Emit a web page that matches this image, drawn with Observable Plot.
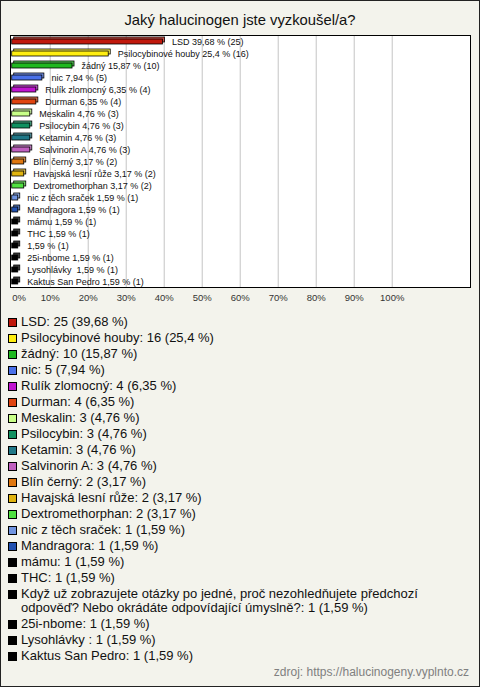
<!DOCTYPE html>
<html>
<head>
<meta charset="utf-8">
<script src="https://cdn.jsdelivr.net/npm/d3@7"></script>
<script src="https://cdn.jsdelivr.net/npm/@observablehq/plot@0.6"></script>
<style>
  html, body { margin: 0; padding: 0; background: #fff; }
  #card {
    position: relative; box-sizing: border-box; width: 480px; height: 687px;
    background: #f3f3ec; border: 1px solid #222; overflow: hidden;
    font-family: "Liberation Sans", Arial, sans-serif; color: #111;
  }
  #title { position: absolute; left: 0; top: 10px; width: 478px; text-align: center; font-size: 14.8px; line-height: 18px; }
  #chart { position: absolute; left: 0; top: 29px; }
  #legend { position: absolute; left: 7px; top: 314px; width: 440px; font-size: 13px; }
  .item { display: flex; align-items: flex-start; line-height: 14px; margin-bottom: 2px; }
  .sw { flex: none; box-sizing: border-box; width: 9px; height: 9px; border: 1px solid #000; margin: 3px 4px 0 0; }
  #source { position: absolute; right: 10px; top: 664px; font-size: 12px; color: #808080; }
</style>
</head>
<body>
<div id="card">
  <div id="title"></div>
  <div id="chart"></div>
  <div id="legend"></div>
  <div id="source"></div>
</div>
<script>
const titleText = "Jaký halucinogen jste vyzkoušel/a?";
const sourceText = "zdroj: https://halucinogeny.vyplnto.cz";
const categories = [
  "LSD", "Psilocybinové houby", "žádný", "nic", "Rulík zlomocný", "Durman",
  "Meskalin", "Psilocybin", "Ketamin", "Salvinorin A", "Blín černý",
  "Havajská lesní růže", "Dextromethorphan", "nic z těch sraček", "Mandragora",
  "mámu", "THC",
  "Když už zobrazujete otázky po jedné, proč nezohledňujete předchozí odpověď? Nebo okrádáte odpovídající úmyslně?",
  "25i-nbome", "Lysohlávky ", "Kaktus San Pedro"
];
const barLabels = [
  "LSD", "Psilocybinové houby", "žádný", "nic", "Rulík zlomocný", "Durman",
  "Meskalin", "Psilocybin", "Ketamin", "Salvinorin A", "Blín černý",
  "Havajská lesní růže", "Dextromethorphan", "nic z těch sraček", "Mandragora",
  "mámu", "THC", "", "25i-nbome", "Lysohlávky ", "Kaktus San Pedro"
];
const counts = [25, 16, 10, 5, 4, 4, 3, 3, 3, 3, 2, 2, 2, 1, 1, 1, 1, 1, 1, 1, 1];
const percents = [39.68, 25.4, 15.87, 7.94, 6.35, 6.35, 4.76, 4.76, 4.76, 4.76, 3.17, 3.17, 3.17, 1.59, 1.59, 1.59, 1.59, 1.59, 1.59, 1.59, 1.59];
const percentLabels = ["39,68", "25,4", "15,87", "7,94", "6,35", "6,35", "4,76", "4,76", "4,76", "4,76", "3,17", "3,17", "3,17", "1,59", "1,59", "1,59", "1,59", "1,59", "1,59", "1,59", "1,59"];
const colors = [
  "#c0180c", "#ffee10", "#20b820", "#4a70e8", "#c014d0", "#e04410",
  "#c8ff88", "#109060", "#207888", "#c060c0", "#e07810",
  "#e0b410", "#50e040", "#7094e0", "#2050b0",
  "#000000", "#000000", "#000000", "#000000", "#000000", "#000000"
];
const xTicks = [0, 10, 20, 30, 40, 50, 60, 70, 80, 90, 100];

const rows = categories.map((c, i) => ({
  name: c, count: counts[i], pct: percents[i], pctLabel: percentLabels[i],
  barLabel: barLabels[i], color: colors[i],
  label: (barLabels[i] + " " + percentLabels[i] + " % (" + counts[i] + ")").trim()
}));

document.getElementById("title").textContent = titleText;
document.getElementById("source").textContent = sourceText;

const font = "'Liberation Sans', Arial, sans-serif";
const chart = Plot.plot({
  width: 478,
  height: 285,
  marginLeft: 9,
  marginRight: 9,
  marginTop: 5,
  marginBottom: 28,
  style: { background: "transparent", fontFamily: font },
  x: { domain: [-0.45, 120.6], label: null },
  y: { domain: categories, axis: null, paddingInner: 0.58, paddingOuter: 0.29 },
  color: { domain: categories, range: colors },
  marks: [
    Plot.frame({ fill: "white", stroke: null }),
    Plot.gridX(xTicks.filter(d => d > 0), { stroke: "#c4c4c4", strokeOpacity: 1 }),
    Plot.barX(rows, { x: "pct", y: "name", fill: "name", fillOpacity: 0.75, stroke: "#000", strokeWidth: 0.8, dx: 2, dy: -1 }),
    Plot.barX(rows, { x: "pct", y: "name", fill: "name", stroke: "#000", strokeWidth: 0.8, dy: 1 }),
    Plot.text(rows, { x: "pct", y: "name", text: "label", textAnchor: "start", dx: 9, dy: 1, fontSize: 9, fill: "#111" }),
    Plot.axisX(xTicks.filter(d => d > 0), { tickSize: 0, tickPadding: 7, tickFormat: d => d + "%", fontSize: 9.5, fill: "#333", label: null }),
    Plot.axisX(xTicks.filter(d => d === 0), { tickSize: 0, tickPadding: 7, tickFormat: d => d + "%", fontSize: 9.5, fill: "#333", textAnchor: "start", label: null }),
    Plot.frame({ stroke: "#000", strokeWidth: 1 })
  ]
});
document.getElementById("chart").appendChild(chart);

const legend = d3.select("#legend");
rows.forEach(r => {
  const it = legend.append("div").attr("class", "item");
  it.append("span").attr("class", "sw").style("background", r.color);
  it.append("span").text(r.name + ": " + r.count + " (" + r.pctLabel + " %)");
});
</script>
</body>
</html>
